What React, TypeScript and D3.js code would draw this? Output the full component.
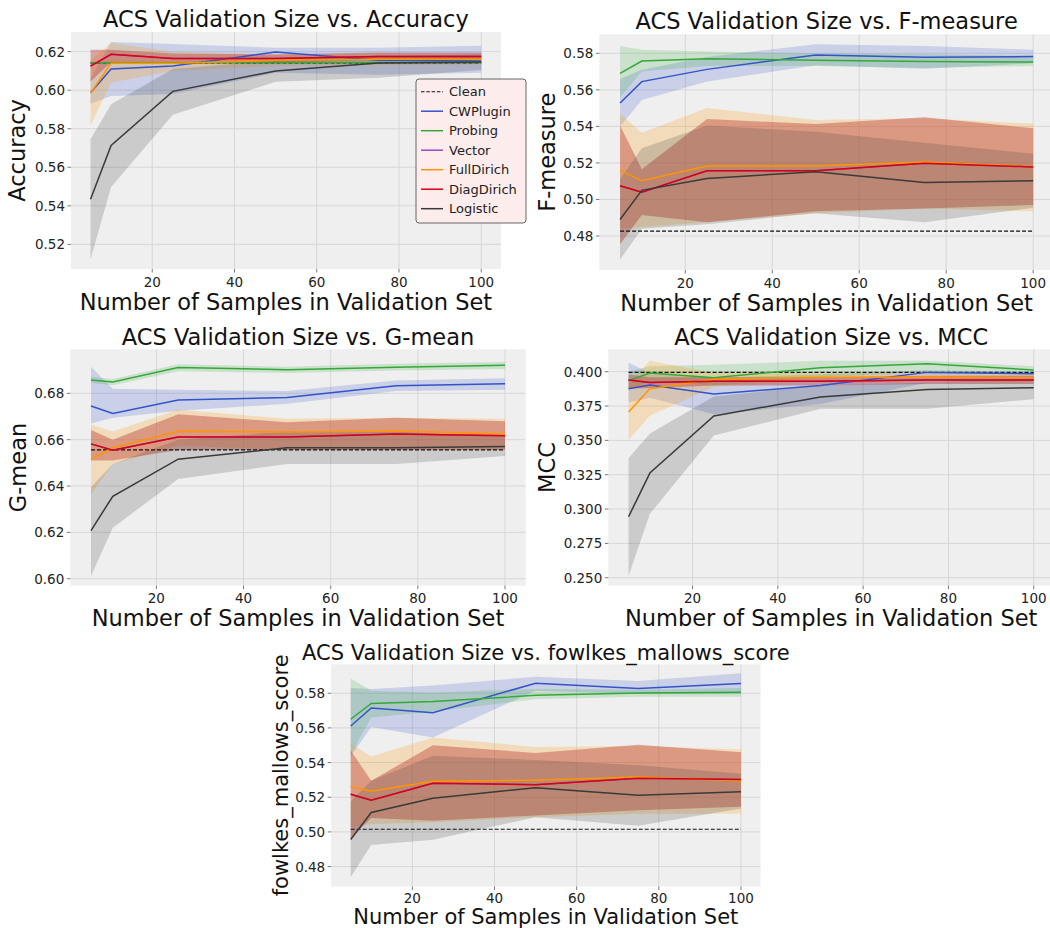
import React from 'react';
import * as d3 from 'd3';

// validation set sizes on the x axis
const sampleSizes = [5, 10, 25, 50, 75, 100];
const xTicks = [20, 40, 60, 80, 100];

const methods = ['CWPlugin', 'Probing', 'Vector', 'FullDirich', 'DiagDirich', 'Logistic'];
const legendNames = ['Clean', 'CWPlugin', 'Probing', 'Vector', 'FullDirich', 'DiagDirich', 'Logistic'];

const lineColors: Record<string, string> = {
  Clean: '#111111',
  CWPlugin: '#3353c9',
  Probing: '#36a83a',
  Vector: '#9a48c4',
  FullDirich: '#ff9500',
  DiagDirich: '#d6000f',
  Logistic: '#3a3a3a',
};
const bandColors: Record<string, string> = {
  CWPlugin: '#3353c9', Probing: '#36a83a', Vector: '#9a48c4', FullDirich: '#ff9500', DiagDirich: '#b8362c', Logistic: '#3a3a3a',
};
// Vector sits exactly under DiagDirich, its band does not show
const bandAlpha: Record<string, number> = {
  CWPlugin: 0.2, Probing: 0.2, Vector: 0, FullDirich: 0.22, DiagDirich: 0.4, Logistic: 0.2,
};

// ---- Accuracy
const accuracyMean = {
  CWPlugin: [0.5987, 0.611, 0.6126, 0.6198, 0.6155, 0.6152],
  Probing: [0.6142, 0.6143, 0.6143, 0.6144, 0.6144, 0.6144],
  Vector: [0.6125, 0.6186, 0.6165, 0.6165, 0.6175, 0.6175],
  FullDirich: [0.5984, 0.614, 0.614, 0.6155, 0.616, 0.616],
  DiagDirich: [0.6125, 0.6186, 0.6165, 0.6165, 0.6175, 0.6175],
  Logistic: [0.5434, 0.5713, 0.5994, 0.61, 0.6141, 0.6146],
};
const accuracyLow = {
  CWPlugin: [0.593, 0.597, 0.598, 0.609, 0.608, 0.609],
  Probing: [0.6136, 0.6137, 0.6137, 0.6138, 0.6138, 0.6138],
  Vector: [0.6045, 0.6145, 0.6145, 0.6145, 0.6155, 0.6155],
  FullDirich: [0.5815, 0.604, 0.61, 0.6125, 0.613, 0.6135],
  DiagDirich: [0.6045, 0.6145, 0.6145, 0.6145, 0.6155, 0.6155],
  Logistic: [0.5123, 0.5497, 0.5872, 0.6044, 0.6065, 0.6105],
};
const accuracyHigh = {
  CWPlugin: [0.606, 0.625, 0.624, 0.622, 0.622, 0.623],
  Probing: [0.6148, 0.6149, 0.6149, 0.615, 0.615, 0.615],
  Vector: [0.621, 0.621, 0.619, 0.6185, 0.6195, 0.6195],
  FullDirich: [0.6155, 0.6245, 0.62, 0.6185, 0.619, 0.6185],
  DiagDirich: [0.621, 0.621, 0.619, 0.6185, 0.6195, 0.6195],
  Logistic: [0.5745, 0.5927, 0.611, 0.6155, 0.6175, 0.6185],
};

// ---- F-measure
const fMean = {
  CWPlugin: [0.5528, 0.5645, 0.5712, 0.5791, 0.5778, 0.5782],
  Probing: [0.569, 0.5758, 0.577, 0.5762, 0.5755, 0.5752],
  Vector: [0.5075, 0.504, 0.5157, 0.5157, 0.5198, 0.5178],
  FullDirich: [0.5159, 0.5103, 0.5183, 0.5183, 0.5205, 0.518],
  DiagDirich: [0.5075, 0.504, 0.5157, 0.5157, 0.5198, 0.5178],
  Logistic: [0.489, 0.505, 0.5115, 0.5152, 0.5093, 0.5103],
};
const fLow = {
  CWPlugin: [0.54, 0.5545, 0.5645, 0.5735, 0.5715, 0.5745],
  Probing: [0.556, 0.57, 0.573, 0.573, 0.572, 0.573],
  Vector: [0.4755, 0.4915, 0.4875, 0.4935, 0.495, 0.497],
  FullDirich: [0.484, 0.485, 0.4875, 0.4925, 0.495, 0.4935],
  DiagDirich: [0.4755, 0.4915, 0.4875, 0.4935, 0.495, 0.497],
  Logistic: [0.467, 0.484, 0.4865, 0.4925, 0.4875, 0.4955],
};
const fHigh = {
  CWPlugin: [0.566, 0.571, 0.578, 0.585, 0.584, 0.582],
  Probing: [0.584, 0.582, 0.581, 0.58, 0.5795, 0.5785],
  Vector: [0.5405, 0.5165, 0.544, 0.5413, 0.545, 0.539],
  FullDirich: [0.547, 0.5365, 0.55, 0.5435, 0.5445, 0.5415],
  DiagDirich: [0.5405, 0.5165, 0.544, 0.5413, 0.545, 0.539],
  Logistic: [0.511, 0.528, 0.5405, 0.537, 0.531, 0.525],
};

// ---- G-mean
const gMean = {
  CWPlugin: [0.6745, 0.6713, 0.6771, 0.6782, 0.6833, 0.6841],
  Probing: [0.6858, 0.6849, 0.6911, 0.6902, 0.6913, 0.6921],
  Vector: [0.6582, 0.6555, 0.6612, 0.6612, 0.6625, 0.6617],
  FullDirich: [0.6516, 0.6565, 0.6636, 0.6633, 0.6638, 0.6625],
  DiagDirich: [0.6582, 0.6555, 0.6612, 0.6612, 0.6625, 0.6617],
  Logistic: [0.6208, 0.6356, 0.6516, 0.6565, 0.6565, 0.6571],
};
const gLow = {
  CWPlugin: [0.667, 0.6695, 0.6725, 0.6755, 0.681, 0.6815],
  Probing: [0.6845, 0.6835, 0.6895, 0.6888, 0.6898, 0.6905],
  Vector: [0.651, 0.651, 0.6555, 0.6555, 0.6555, 0.6555],
  FullDirich: [0.6365, 0.6495, 0.6575, 0.6555, 0.656, 0.656],
  DiagDirich: [0.651, 0.651, 0.6555, 0.6555, 0.6555, 0.6555],
  Logistic: [0.6012, 0.622, 0.643, 0.6495, 0.6495, 0.653],
};
const gHigh = {
  CWPlugin: [0.6915, 0.682, 0.6815, 0.681, 0.6855, 0.6865],
  Probing: [0.687, 0.6862, 0.6925, 0.6915, 0.6928, 0.6935],
  Vector: [0.6642, 0.66, 0.671, 0.6675, 0.6695, 0.668],
  FullDirich: [0.6665, 0.6635, 0.673, 0.669, 0.6695, 0.669],
  DiagDirich: [0.6642, 0.66, 0.671, 0.6675, 0.6695, 0.668],
  Logistic: [0.6395, 0.6495, 0.66, 0.6635, 0.6635, 0.661],
};

// ---- MCC
const mccMean = {
  CWPlugin: [0.3875, 0.3903, 0.3837, 0.39, 0.3995, 0.3985],
  Probing: [0.3935, 0.399, 0.3955, 0.4029, 0.4058, 0.4012],
  Vector: [0.394, 0.3922, 0.393, 0.393, 0.394, 0.394],
  FullDirich: [0.3706, 0.3876, 0.3945, 0.396, 0.396, 0.3955],
  DiagDirich: [0.394, 0.3922, 0.393, 0.393, 0.394, 0.394],
  Logistic: [0.2944, 0.3262, 0.3677, 0.3816, 0.3871, 0.3883],
};
const mccLow = {
  CWPlugin: [0.3775, 0.381, 0.369, 0.3765, 0.392, 0.394],
  Probing: [0.387, 0.393, 0.39, 0.396, 0.4, 0.398],
  Vector: [0.388, 0.388, 0.39, 0.39, 0.391, 0.391],
  FullDirich: [0.3505, 0.368, 0.389, 0.393, 0.393, 0.3925],
  DiagDirich: [0.388, 0.388, 0.39, 0.39, 0.391, 0.391],
  Logistic: [0.2515, 0.2965, 0.3535, 0.373, 0.373, 0.38],
};
const mccHigh = {
  CWPlugin: [0.4065, 0.399, 0.3955, 0.398, 0.401, 0.4],
  Probing: [0.4, 0.404, 0.405, 0.408, 0.408, 0.404],
  Vector: [0.398, 0.396, 0.396, 0.396, 0.397, 0.397],
  FullDirich: [0.391, 0.408, 0.399, 0.399, 0.399, 0.3985],
  DiagDirich: [0.398, 0.396, 0.396, 0.396, 0.397, 0.397],
  Logistic: [0.337, 0.355, 0.382, 0.39, 0.392, 0.395],
};

// ---- fowlkes_mallows_score
const fmMean = {
  CWPlugin: [0.5611, 0.5715, 0.5688, 0.5858, 0.5827, 0.5856],
  Probing: [0.565, 0.5741, 0.5752, 0.5788, 0.5801, 0.5806],
  Vector: [0.5217, 0.5183, 0.5281, 0.5272, 0.5309, 0.5302],
  FullDirich: [0.5262, 0.5235, 0.5292, 0.5298, 0.5317, 0.5295],
  DiagDirich: [0.5217, 0.5183, 0.5281, 0.5272, 0.5309, 0.5302],
  Logistic: [0.4956, 0.5112, 0.5194, 0.5255, 0.5211, 0.5232],
};
const fmLow = {
  CWPlugin: [0.5435, 0.5605, 0.5545, 0.5815, 0.5795, 0.5795],
  Probing: [0.5445, 0.566, 0.5695, 0.5765, 0.578, 0.578],
  Vector: [0.4965, 0.508, 0.5065, 0.5095, 0.5125, 0.5145],
  FullDirich: [0.5025, 0.5045, 0.5055, 0.5085, 0.5105, 0.5105],
  DiagDirich: [0.4965, 0.508, 0.5065, 0.5095, 0.5125, 0.5145],
  Logistic: [0.474, 0.4925, 0.4955, 0.5085, 0.5035, 0.5135],
};
const fmHigh = {
  CWPlugin: [0.583, 0.5825, 0.5845, 0.5895, 0.587, 0.5915],
  Probing: [0.5885, 0.5815, 0.5805, 0.5825, 0.582, 0.583],
  Vector: [0.547, 0.5295, 0.55, 0.5455, 0.5503, 0.5459],
  FullDirich: [0.551, 0.5435, 0.5545, 0.549, 0.5495, 0.5475],
  DiagDirich: [0.547, 0.5295, 0.55, 0.5455, 0.5503, 0.5459],
  Logistic: [0.5175, 0.5295, 0.544, 0.5415, 0.5385, 0.5335],
};

// clean baseline per metric
const cleanAccuracy = 0.6141;
const cleanF = 0.4827;
const cleanG = 0.6556;
const cleanMcc = 0.3995;
const cleanFm = 0.5015;

const accuracyTicks = [0.52, 0.54, 0.56, 0.58, 0.6, 0.62];
const fTicks = [0.48, 0.5, 0.52, 0.54, 0.56, 0.58];
const gTicks = [0.6, 0.62, 0.64, 0.66, 0.68];
const mccTicks = [0.25, 0.275, 0.3, 0.325, 0.35, 0.375, 0.4];
const fmTicks = [0.48, 0.5, 0.52, 0.54, 0.56, 0.58];

const FONT = 'DejaVu Sans, sans-serif';

type Series = Record<string, number[]>;

function Panel({ title, ylabel, left, right, top, bottom, yDomain, yTicks, decimals, mean, low, high, clean,
  labelX, big = 22.5, xlabelGap = 40.5, tickGap = 17.5, titleGap = 5, legend }: {
  title: string; ylabel: string; left: number; right: number; top: number; bottom: number;
  yDomain: number[]; yTicks: number[]; decimals: number; mean: Series; low: Series; high: Series;
  clean: number; labelX: number; big?: number; xlabelGap?: number; tickGap?: number; titleGap?: number; legend?: boolean;
}) {
  const x = d3.scaleLinear().domain([0.25, 104.75]).range([left, right]);
  const y = d3.scaleLinear().domain(yDomain).range([bottom, top]);
  const fmt = d3.format('.' + decimals + 'f');
  const cx = (left + right) / 2;

  const area = (m: string) => d3.area<number>()
    .x((d, i) => x(sampleSizes[i]))
    .y0((d, i) => y(low[m][i]))
    .y1((d, i) => y(high[m][i]))(mean[m]) || '';
  const line = (vals: number[]) => d3.line<number>()
    .x((d, i) => x(sampleSizes[i]))
    .y((d) => y(d))(vals) || '';

  return (
    <g>
      <rect x={left} y={top} width={right - left} height={bottom - top} fill="#efefef" />
      {xTicks.map((t) => (
        <g key={'x' + t}>
          <line x1={x(t)} x2={x(t)} y1={top} y2={bottom} stroke="#d7d7d7" strokeWidth={1} />
          <line x1={x(t)} x2={x(t)} y1={bottom} y2={bottom + 3.5} stroke="#555" strokeWidth={0.8} />
          <text x={x(t)} y={bottom + tickGap} textAnchor="middle" fontSize={13.5} fill="#222">{t}</text>
        </g>
      ))}
      {yTicks.map((t) => (
        <g key={'y' + t}>
          <line x1={left} x2={right} y1={y(t)} y2={y(t)} stroke="#d7d7d7" strokeWidth={1} />
          <line x1={left - 3.5} x2={left} y1={y(t)} y2={y(t)} stroke="#555" strokeWidth={0.8} />
          <text x={left - 6} y={y(t)} textAnchor="end" dominantBaseline="central" fontSize={13.5} fill="#222">{fmt(t)}</text>
        </g>
      ))}
      {methods.filter((m) => bandAlpha[m] > 0).map((m) => (
        <path key={'band' + m} d={area(m)} fill={bandColors[m]} fillOpacity={bandAlpha[m]} stroke="none" />
      ))}
      <path d={line(sampleSizes.map(() => clean))} fill="none" stroke={lineColors.Clean} strokeWidth={1.1} strokeDasharray="4,2" />
      {methods.map((m) => (
        <path key={'line' + m} d={line(mean[m])} fill="none" stroke={lineColors[m]} strokeWidth={1.5} />
      ))}
      <text x={cx} y={top - titleGap} textAnchor="middle" fontSize={big} fill="#111">{title}</text>
      <text x={cx} y={bottom + xlabelGap} textAnchor="middle" fontSize={big} fill="#111">Number of Samples in Validation Set</text>
      <text transform={`translate(${labelX},${(top + bottom) / 2}) rotate(-90)`} textAnchor="middle" fontSize={big} fill="#111">{ylabel}</text>
      {legend && <Legend x0={416} y0={79} />}
    </g>
  );
}

function Legend({ x0, y0 }: { x0: number; y0: number }) {
  return (
    <g>
      <rect x={x0} y={y0} width={110} height={144} rx={3} fill="#fdecec" stroke="#666" strokeWidth={1} />
      {legendNames.map((n, i) => (
        <g key={n} transform={`translate(${x0},${y0 + 12.7 + i * 19.5})`}>
          <line x1={5} x2={27} y1={0} y2={0} stroke={lineColors[n]} strokeWidth={n === 'Clean' ? 1.1 : 1.5}
            strokeDasharray={n === 'Clean' ? '3.5,1.8' : undefined} />
          <text x={33} y={0} dominantBaseline="central" fontSize={13} fill="#222">{n}</text>
        </g>
      ))}
    </g>
  );
}

export default function App() {
  return (
    <svg width={1050} height={928} style={{ position: 'absolute', left: 0, top: 0, background: '#fff', fontFamily: FONT }}>
      <Panel title="ACS Validation Size vs. Accuracy" ylabel="Accuracy" left={71} right={500.8} top={32} bottom={269}
        yDomain={[0.5072, 0.6302]} yTicks={accuracyTicks} decimals={2}
        mean={accuracyMean} low={accuracyLow} high={accuracyHigh} clean={cleanAccuracy} labelX={24.5} legend />
      <Panel title="ACS Validation Size vs. F-measure" ylabel="F-measure" left={599.4} right={1053.8} top={34.3} bottom={270}
        yDomain={[0.4614, 0.5904]} yTicks={fTicks} decimals={2}
        mean={fMean} low={fLow} high={fHigh} clean={cleanF} labelX={554.5} />
      <Panel title="ACS Validation Size vs. G-mean" ylabel="G-mean" left={70.3} right={525.7} top={349.3} bottom={585.7}
        yDomain={[0.597, 0.699]} yTicks={gTicks} decimals={2} titleGap={4.3}
        mean={gMean} low={gLow} high={gHigh} clean={cleanG} labelX={26} />
      <Panel title="ACS Validation Size vs. MCC" ylabel="MCC" left={608.3} right={1054} top={349.3} bottom={585.7}
        yDomain={[0.2442, 0.4163]} yTicks={mccTicks} decimals={3} titleGap={4.3}
        mean={mccMean} low={mccLow} high={mccHigh} clean={cleanMcc} labelX={554.5} />
      <Panel title="ACS Validation Size vs. fowlkes_mallows_score" ylabel="fowlkes_mallows_score" left={331.2} right={760.5} top={664.3} bottom={886.5}
        yDomain={[0.4685, 0.5967]} yTicks={fmTicks} decimals={2} big={21} xlabelGap={37} tickGap={16.5} titleGap={4.3}
        mean={fmMean} low={fmLow} high={fmHigh} clean={cleanFm} labelX={287.5} />
    </svg>
  );
}
